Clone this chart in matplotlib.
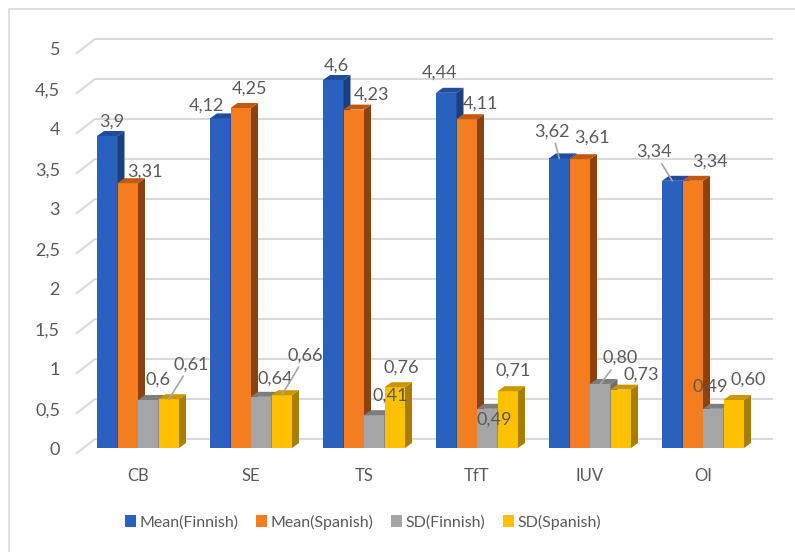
import numpy as np
import matplotlib.pyplot as plt
from matplotlib.patches import Polygon, Patch
from matplotlib.lines import Line2D

plt.rcParams['font.family'] = ['Lato', 'DejaVu Sans']

categories = ['CB', 'SE', 'TS', 'TfT', 'IUV', 'OI']
series = ['Mean(Finnish)', 'Mean(Spanish)', 'SD(Finnish)', 'SD(Spanish)']
mean_fin = [3.9, 4.12, 4.6, 4.44, 3.62, 3.34]
mean_spa = [3.31, 4.25, 4.23, 4.11, 3.61, 3.34]
sd_fin = [0.6, 0.64, 0.41, 0.49, 0.80, 0.49]
sd_spa = [0.61, 0.66, 0.76, 0.71, 0.73, 0.60]
label_text = [
    ['3,9', '4,12', '4,6', '4,44', '3,62', '3,34'],
    ['3,31', '4,25', '4,23', '4,11', '3,61', '3,34'],
    ['0,6', '0,64', '0,41', '0,49', '0,80', '0,49'],
    ['0,61', '0,66', '0,76', '0,71', '0,73', '0,60'],
]
y_ticks = [0, 0.5, 1, 1.5, 2, 2.5, 3, 3.5, 4, 4.5, 5]

values = [mean_fin, mean_spa, sd_fin, sd_spa]

# face colours: front, side, top
front = ['#2b61be', '#f47d20', '#a5a5a5', '#ffc000']
side = ['#1c3f80', '#8a4310', '#6e6e6e', '#a87e00']
top = ['#1f4d9c', '#c05a12', '#7d7d7d', '#c99600']
txt = '#595959'

W, H = 795, 552
fig = plt.figure(figsize=(W / 100, H / 100), dpi=100)
ax = fig.add_axes([0, 0, 1, 1])
ax.axis('off')

# 113 px per category, 80 px per unit, baseline at 448 px from top
px_cat, px_val, base = 113.0, 80.0, 448.0
x0 = 138.0
ax.set_xlim(-x0 / px_cat, (W - x0) / px_cat)
ax.set_ylim((base - H) / px_val, base / px_val)

bw = 20.5 / px_cat
dx, dy = 7 / px_cat, 5 / px_val
wall_front, wall_back, wall_right = (77 - x0) / px_cat, (95 - x0) / px_cat, (772 - x0) / px_cat
wf_dy, wb_dy = -5 / px_val, 9 / px_val

# gridlines on the side and back walls
for v in y_ticks:
    ax.plot([wall_front, wall_back, wall_right], [v + wf_dy, v + wb_dy, v + wb_dy],
            color='#d9d9d9', lw=1.5, zorder=1, solid_joinstyle='miter')
    ax.text((60 - x0) / px_cat, v - 0.03, f'{v:g}'.replace('.', ','), ha='right', va='center',
            fontsize=13, color=txt)

# 3D columns
for i in range(len(categories)):
    for j in range(4):
        v = values[j][i]
        xl = i - 2 * bw + j * bw
        xr = xl + bw
        z = 2 + i * 4 + j
        ax.add_patch(Polygon([(xl, 0), (xr, 0), (xr, v), (xl, v)], closed=True,
                             fc=front[j], ec='none', zorder=z))
        ax.add_patch(Polygon([(xr, 0), (xr + dx, dy), (xr + dx, v + dy), (xr, v)], closed=True,
                             fc=side[j], ec='none', zorder=z))
        ax.add_patch(Polygon([(xl, v), (xr, v), (xr + dx, v + dy), (xl + dx, v + dy)], closed=True,
                             fc=top[j], ec='none', zorder=z))

# data label offsets in pixels from the top of each column front
offsets = [
    [(4, 14), (-14, 13), (3, 14), (-7, 20), (-7, 27), (-18, 29)],
    [(17, 12), (9, 19), (18, 15), (14, 16), (12, 22), (17, 19)],
    [(10, 20), (14, 18), (16, 20), (7, -11), (20, 26), (-3, 22)],
    [(22, 35), (24, 40), (6, 20), (5, 21), (20, 15), (14, 20)],
]
leaders = {(3, 0), (3, 1), (0, 4), (0, 5), (2, 4)}

for j in range(4):
    for i in range(len(categories)):
        v = values[j][i]
        xc = i - 2 * bw + j * bw + bw / 2
        ox, oy = offsets[j][i]
        arrow = None
        if (j, i) in leaders:
            arrow = dict(arrowstyle='-', color='#a6a6a6', lw=1.2, shrinkA=1, shrinkB=0)
        ax.annotate(label_text[j][i], xy=(xc, v), xytext=(ox, oy), textcoords='offset pixels',
                    ha='center', va='center', fontsize=13, color=txt, zorder=50,
                    arrowprops=arrow)

# category labels
for i, c in enumerate(categories):
    ax.text(i, (base - 476) / px_val, c, ha='center', va='center', fontsize=12, color=txt)

# legend
handles = [Patch(fc=front[j], ec='none') for j in range(4)]
fig.legend(handles, series, loc='center', bbox_to_anchor=(363 / W, 1 - 522 / H), ncol=4,
           frameon=False, fontsize=11.5, handlelength=0.7, handleheight=0.7,
           handletextpad=0.2, columnspacing=1.1, labelcolor=txt)

# chart area border (top and left edges)
fig.add_artist(Line2D([9 / W, 9 / W, 1], [0, 1 - 9 / H, 1 - 9 / H], color='#d9d9d9', lw=1.2))

fig.savefig('out.png', dpi=100)
